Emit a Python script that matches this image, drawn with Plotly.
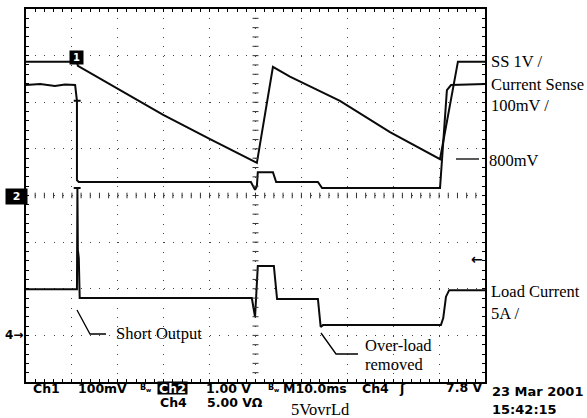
import plotly.graph_objects as go

# ---------------- data (time in ms, 10 ms/div; amplitude in screen divisions) ----------------
ss_time = [0, 11.1, 11.3, 20.5, 29.9, 40.1, 50.3, 53.8, 57.5, 68.4, 79.3, 90.2, 94.1, 100]
ss_level = [2.87, 2.87, 2.78, 2.26, 1.73, 1.21, 0.70, 2.76, 2.55, 2.03, 1.36, 0.78, 2.87, 2.87]

cs_time = [0, 3.1, 6.3, 8.5, 10.7, 11.1, 10.4, 11.9, 11.1, 11.1, 11.5, 49.0, 49.9, 50.3, 50.5,
           53.8, 54.5, 63.6, 64.5, 90.2, 91.7, 92.6, 100]
cs_level = [2.37, 2.39, 2.35, 2.38, 2.37, 2.03, 2.03, 2.03, 2.03, 0.33, 0.29, 0.29, 0.12, 0.20, 0.50,
            0.50, 0.29, 0.29, 0.16, 0.16, 2.26, 2.37, 2.39]

load_time = [0, 11.1, 11.2, 10.4, 11.9, 11.2, 11.3, 11.5, 11.7, 49.2, 49.9, 50.2, 50.5, 54.0,
             54.7, 63.6, 64.2, 64.7, 90.4, 90.9, 91.5, 92.2, 100]
load_level = [-2.01, -2.01, 0.16, 0.16, 0.16, 0.16, -1.17, -1.34, -2.20, -2.20, -2.61, -2.03, -1.51, -1.51,
              -2.22, -2.22, -2.82, -2.78, -2.78, -2.63, -2.17, -2.03, -2.03]

trace_names = ["SS", "Current Sense", "Load Current"]

# ---------------- geometry ----------------
W, H = 587, 418
L, R, T, B = 26, 102, 9, 36
PW, PH = W - L - R, H - T - B
X_RANGE = [0, 100]
Y_RANGE = [-4, 4]


def px(xp):
    return (xp - L) / PW


def py(yp):
    return (T + PH - yp) / PH


fig = go.Figure()
for t, v, n in zip([ss_time, cs_time, load_time], [ss_level, cs_level, load_level], trace_names):
    fig.add_trace(go.Scatter(x=t, y=v, mode="lines", name=n, showlegend=False,
                             line=dict(color="#0a0a0a", width=2), hoverinfo="skip"))

axis_common = dict(showticklabels=False, zeroline=False, showline=True, linecolor="black",
                   linewidth=2, mirror="ticks", ticks="inside", ticklen=3, tickcolor="black",
                   showgrid=True, gridcolor="#444", gridwidth=1, fixedrange=True)

fig.update_xaxes(range=X_RANGE, dtick=10, tick0=0, griddash="1px,8.33px",
                 minor=dict(dtick=2, ticks="inside", ticklen=3, tickcolor="black", showgrid=False),
                 **axis_common)
fig.update_yaxes(range=Y_RANGE, dtick=1, tick0=-4, griddash="1px,8.18px",
                 minor=dict(dtick=0.2, ticks="inside", ticklen=3, tickcolor="black", showgrid=False),
                 **axis_common)

shapes = []
# centre-line cross ticks
for k in range(1, 50):
    shapes.append(dict(type="line", xref="x", yref="y", x0=k * 2, x1=k * 2, y0=-0.06, y1=0.06,
                       line=dict(color="#333", width=1)))
for k in range(1, 40):
    yv = -4 + k * 0.2
    shapes.append(dict(type="line", xref="x", yref="y", x0=49.35, x1=50.65, y0=yv, y1=yv,
                       line=dict(color="#333", width=1)))


# leader lines
def path(points):
    d = "M" + " L".join(f"{px(a):.5f},{py(b):.5f}" for a, b in points)
    return dict(type="path", xref="paper", yref="paper", path=d, line=dict(color="black", width=1.3))


shapes.append(path([(456, 159), (479, 159)]))
shapes.append(path([(77, 310), (90, 334), (106, 334)]))
shapes.append(path([(321, 333), (336, 354), (358, 354)]))

annotations = []


def txt(s, xp, yp, size=16.5, family="Liberation Serif", anchor="left", color="black",
        bg=None, weight="normal", **kw):
    a = dict(text=s, x=px(xp), y=py(yp), xref="paper", yref="paper", showarrow=False,
             xanchor=anchor, yanchor="middle", font=dict(size=size, family=family, color=color,
                                                           weight=weight))
    if bg:
        a["bgcolor"] = bg
    a.update(kw)
    annotations.append(a)


txt("SS 1V /", 489, 62)
txt("Current Sense", 489, 84)
txt("100mV /", 489, 106)
txt("800mV", 487, 160)
txt("Load Current", 489, 291)
txt("5A /", 489, 313)
txt("Short Output", 114, 333)
txt("Over-load", 363, 345)
txt("removed", 363, 364)
txt("5VovrLd", 289, 409)

sans = "DejaVu Sans"
bs = 12.5
txt("Ch1", 31, 388, size=bs, family=sans, weight="bold")
txt("100mV", 76, 388, size=bs, family=sans, weight="bold")
txt("B<sub>w</sub>", 138, 388, size=8, family=sans, weight="bold")
txt("Ch2", 172.5, 388.5, size=bs, family=sans, weight="bold", color="white", bg="black",
    anchor="center", borderpad=0, width=29, height=12)
txt("1.00 V", 204, 388, size=bs, family=sans, weight="bold")
txt("B<sub>w</sub>", 266, 388, size=8, family=sans, weight="bold")
txt("M10.0ms", 281, 388, size=bs, family=sans, weight="bold")
txt("Ch4", 360, 388, size=bs, family=sans, weight="bold")
txt("ʃ", 397, 388, size=bs, family=sans, weight="bold")
txt("7.8 V", 444, 387, size=bs, family=sans, weight="bold")
txt("23 Mar 2001", 490, 391, size=13, family=sans, weight="bold")
txt("15:42:15", 490, 409, size=13, family=sans, weight="bold")
txt("Ch4", 158, 402.5, size=bs, family=sans, weight="bold")
txt("5.00 VΩ", 205, 402.5, size=bs, family=sans, weight="bold")

# channel markers
txt("1", 76.5, 57.5, size=10, family=sans, weight="bold", color="white", bg="black",
    anchor="center", width=11, height=11)
txt("2", 16.5, 196.5, size=11, family=sans, weight="bold", color="white", bg="black",
    anchor="center", width=19, height=13)
txt("4→", 25, 335, size=12, family=sans, weight="bold", anchor="right")
txt("←", 485, 259, size=14, family=sans, weight="bold", anchor="right")

fig.update_layout(width=W, height=H, margin=dict(l=L, r=R, t=T, b=B, autoexpand=False),
                  paper_bgcolor="white", plot_bgcolor="white", shapes=shapes,
                  annotations=annotations, showlegend=False)

fig.write_html("out.html", config={"displayModeBar": False, "staticPlot": True},
               post_script="document.body.style.margin='0';document.body.style.overflow='hidden';")
